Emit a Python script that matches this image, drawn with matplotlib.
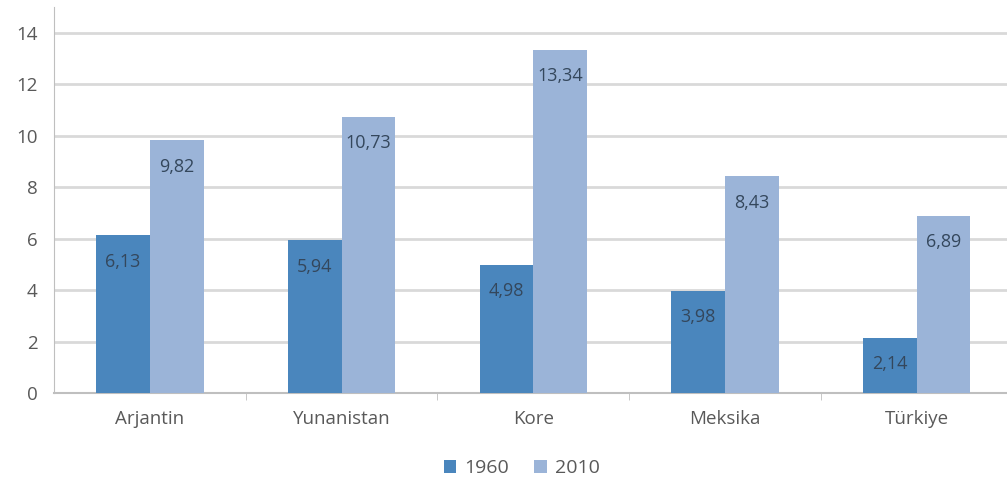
import matplotlib
matplotlib.use("Agg")
import matplotlib.pyplot as plt
import numpy as np

categories = ["Arjantin", "Yunanistan", "Kore", "Meksika", "Türkiye"]
v1960 = [6.13, 5.94, 4.98, 3.98, 2.14]
v2010 = [9.82, 10.73, 13.34, 8.43, 6.89]
series_names = ["1960", "2010"]
yticks = [0, 2, 4, 6, 8, 10, 12, 14]

plt.rcParams['font.family'] = ['Open Sans', 'DejaVu Sans']

c1960 = "#4a86bd"
c2010 = "#9bb4d8"
txt = "#595959"
lbl = "#34475c"

fig = plt.figure(figsize=(10.07, 4.86), dpi=100)
ax = fig.add_axes([0.0536, 0.1914, 0.952, 0.7936])

x = np.arange(len(categories))
w = 0.28
b1 = ax.bar(x - w/2, v1960, w, color=c1960, label=series_names[0], zorder=3)
b2 = ax.bar(x + w/2, v2010, w, color=c2010, label=series_names[1], zorder=3)

def fmt(v):
    return f"{v:.2f}".replace(".", ",")

for bars, vals in ((b1, v1960), (b2, v2010)):
    for r, v in zip(bars, vals):
        ax.annotate(fmt(v), (r.get_x() + r.get_width()/2, v), xytext=(0, -19),
                    textcoords="offset points", ha="center", va="center",
                    fontsize=13, color=lbl, zorder=4)

ax.set_xlim(-0.5, len(categories) - 0.5)
ax.set_ylim(0, 15)
ax.set_yticks(yticks)
ax.set_yticklabels([str(t) for t in yticks])
ax.set_xticks(x)
ax.set_xticklabels(categories)
ax.tick_params(axis="both", colors=txt, labelsize=13.5, length=0)
ax.tick_params(axis="y", pad=12)
ax.tick_params(axis="x", pad=12)
ax.grid(axis="y", color="#d9d9d9", linewidth=2, zorder=0)
for s in ["top", "right"]:
    ax.spines[s].set_visible(False)
ax.spines["left"].set_color("#bfbfbf")
ax.spines["bottom"].set_color("#bfbfbf")
ax.spines["bottom"].set_linewidth(1.5)
ax.set_xticks(np.arange(0.5, len(categories) - 0.5, 1), minor=True)
ax.tick_params(axis="x", which="minor", length=5, color="#bfbfbf", direction="out")

leg = fig.legend(handles=[b1, b2], loc="center", bbox_to_anchor=(0.518, 0.037), ncol=2,
                 frameon=False, fontsize=14, handlelength=0.65, handleheight=0.65,
                 handletextpad=0.4, columnspacing=1.3)
for t in leg.get_texts():
    t.set_color(txt)

fig.savefig("out.png", dpi=100)
